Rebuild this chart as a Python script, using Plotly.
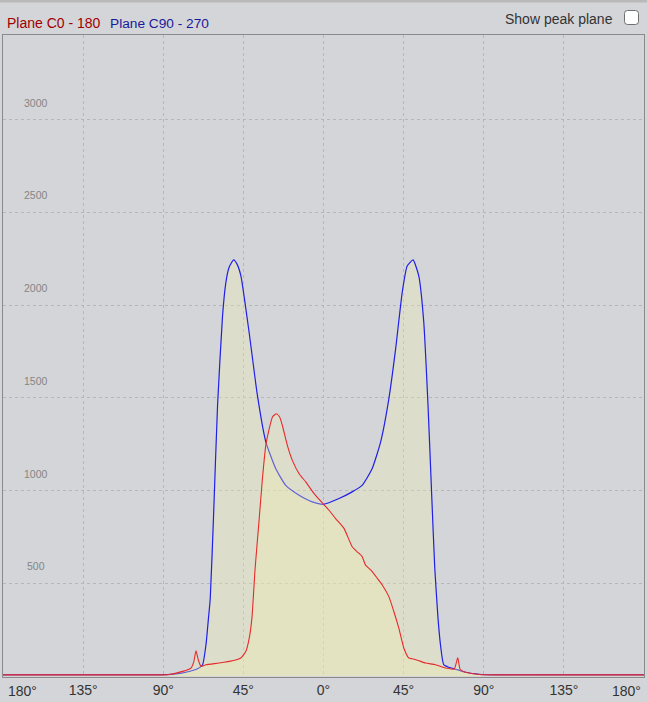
import plotly.graph_objects as go

# ---- data ----
c90_angles = [-180, -150, -120, -95, -87.6, -82.8, -77.2, -70.7, -67.9, -66.0, -64.6, -63.6, -61.8,
              -59.5, -56.7, -54.8, -53.0, -50.5, -48.5, -46.4, -41.8, -37.1, -32.4, -26.8, -21.2,
              -13.7, -6.3, 0.1, 8.7, 16.1, 21.7, 27.3, 32.1, 36.7, 40.5, 44.2, 47.0, 50.3, 53.5,
              56.3, 58.7, 61.0, 62.5, 64.3, 65.7, 67.5, 70.3, 75.0, 79.7, 85.3, 89.0, 95, 120, 150, 180]
c90_values = [6, 6, 6, 6, 7, 11, 20, 39, 61, 168, 312, 419, 849,
              1459, 1942, 2124, 2204, 2244, 2220, 2158, 1855, 1512, 1263, 1118, 1028,
              975, 939, 926, 957, 993, 1028, 1118, 1263, 1495, 1763, 2068, 2211, 2244, 2158,
              1909, 1459, 921, 581, 312, 168, 61, 47, 34, 20, 11, 7, 6, 6, 6, 6]

c0_angles = [-180, -150, -120, -95, -87.5, -79.1, -74.4, -72.9, -71.6, -70.3, -68.8, -66.0, -58.6,
             -51.1, -46.4, -43.6, -41.7, -40.2, -38.4, -36.1, -34.3, -32.4, -30.5, -28.6, -26.5,
             -24.7, -23.1, -20.3, -17.5, -13.7, -10.0, -5.3, 0.1, 3.1, 6.8, 11.5, 16.1, 18.9,
             21.7, 23.6, 26.5, 30.2, 33.0, 36.7, 39.5, 42.3, 45.1, 47.9, 49.8, 53.1, 57.3, 62.9,
             68.5, 73.4, 75.4, 76.8, 79.7, 85.3, 90, 120, 150, 180]
c0_values = [6, 6, 6, 6, 7, 25, 43, 75, 136, 86, 52, 61, 70,
             82, 97, 133, 204, 312, 581, 849, 1065, 1244, 1333, 1398, 1414,
             1398, 1351, 1244, 1163, 1091, 1047, 984, 926, 894, 849, 796, 697, 670,
             644, 598, 572, 527, 491, 428, 348, 258, 151, 97, 93, 84, 70, 61,
             43, 38, 98, 34, 20, 11, 7, 6, 6, 6]

x_tick_vals = [-135, -90, -45, 0, 45, 90, 135]
x_tick_text = ["135°", "90°", "45°", "0°", "45°", "90°", "135°"]
x_end_label = "180°"
y_tick_vals = [500, 1000, 1500, 2000, 2500, 3000]

series_names = ["Plane C0 - 180", "Plane C90 - 270"]

# ---- style ----
BG = "#d4d5d8"
FILL = "rgba(240,240,178,0.32)"
W, H = 647, 702
ML, MR, MT, MB = 3, 3, 35, 25
PW, PH = W - ML - MR, H - MT - MB


def px_to_paper(xp, yp):
    return (xp - ML) / PW, 1 + (MT - yp) / PH


fig = go.Figure()
fig.add_trace(go.Scatter(x=c90_angles, y=c90_values, name=series_names[1], mode="lines",
                         line=dict(color="#1f1fe6", width=1.2, shape="spline", smoothing=0.5),
                         fill="tozeroy", fillcolor=FILL))
fig.add_trace(go.Scatter(x=c0_angles, y=c0_values, name=series_names[0], mode="lines",
                         line=dict(color="#e62a2a", width=1.1, shape="spline", smoothing=0.5),
                         fill="tozeroy", fillcolor=FILL))

grid = dict(showgrid=True, gridcolor="#b6b6b6", griddash="dot", gridwidth=1, zeroline=False,
            showline=True, mirror=True, linecolor="#8a8a8a", linewidth=1)

fig.update_xaxes(range=[-180, 180], tickvals=x_tick_vals, ticktext=x_tick_text, ticks="",
                 tickfont=dict(family="Liberation Sans, Arial", size=14, color="#333333"), **grid)
fig.update_yaxes(range=[-5.4, 3457], tickvals=y_tick_vals, showticklabels=False, ticks="", **grid)

annotations = []
for v in y_tick_vals:
    annotations.append(dict(x=0, xref="paper", xanchor="center", xshift=33, y=v, yref="y",
                            yanchor="middle", yshift=17, text=str(v), showarrow=False,
                            font=dict(family="Liberation Sans, Arial", size=10.5, color="#858585")))
for xv, anc, sh in [(-180, "left", 3), (180, "right", -1)]:
    annotations.append(dict(x=xv, xref="x", xanchor=anc, xshift=sh, y=0, yref="paper",
                            yanchor="top", yshift=-4, text=x_end_label, showarrow=False,
                            font=dict(family="Liberation Sans, Arial", size=14, color="#333333")))
lx, ly = px_to_paper(5, 23.5)
annotations.append(dict(x=lx, y=ly, xref="paper", yref="paper", xanchor="left", yanchor="middle",
                        text=series_names[0], showarrow=False,
                        font=dict(family="Liberation Sans, Arial", size=14, color="#a00000")))
lx, ly = px_to_paper(108, 23.5)
annotations.append(dict(x=lx, y=ly, xref="paper", yref="paper", xanchor="left", yanchor="middle",
                        text=series_names[1], showarrow=False,
                        font=dict(family="Liberation Sans, Arial", size=13.7, color="#1a1a9c")))
lx, ly = px_to_paper(615, 19)
annotations.append(dict(x=lx, y=ly, xref="paper", yref="paper", xanchor="right", yanchor="middle",
                        text="Show peak plane", showarrow=False,
                        font=dict(family="Liberation Sans, Arial", size=14, color="#333333")))

# checkbox (rounded rect) and top strip
def rrect(x0, y0, x1, y1, r):
    def P(x, y):
        a, b = px_to_paper(x, y)
        return f"{a:.5f},{b:.5f}"
    return (f"M {P(x0 + r, y0)} L {P(x1 - r, y0)} Q {P(x1, y0)} {P(x1, y0 + r)} "
            f"L {P(x1, y1 - r)} Q {P(x1, y1)} {P(x1 - r, y1)} L {P(x0 + r, y1)} "
            f"Q {P(x0, y1)} {P(x0, y1 - r)} L {P(x0, y0 + r)} Q {P(x0, y0)} {P(x0 + r, y0)} Z")

shapes = [
    dict(type="path", xref="paper", yref="paper", path=rrect(624.5, 10.5, 638.5, 24.5, 3),
         fillcolor="white", line=dict(color="#6f6f6f", width=1)),
]
x0, y0 = px_to_paper(0, 0)
x1, y1 = px_to_paper(W, 2.5)
shapes.append(dict(type="rect", xref="paper", yref="paper", x0=x0, x1=x1, y0=y1, y1=y0,
                   fillcolor="#b9b9b9", line=dict(width=0)))

fig.update_layout(width=W, height=H, margin=dict(l=ML, r=MR, t=MT, b=MB),
                  paper_bgcolor=BG, plot_bgcolor=BG, showlegend=False,
                  annotations=annotations, shapes=shapes,
                  font=dict(family="Liberation Sans, Arial"))

fig.write_html("out.html", config={"displayModeBar": False},
               post_script="document.body.style.margin='0px';document.body.style.overflow='hidden';"
                           "document.body.style.background='%s';" % BG)
